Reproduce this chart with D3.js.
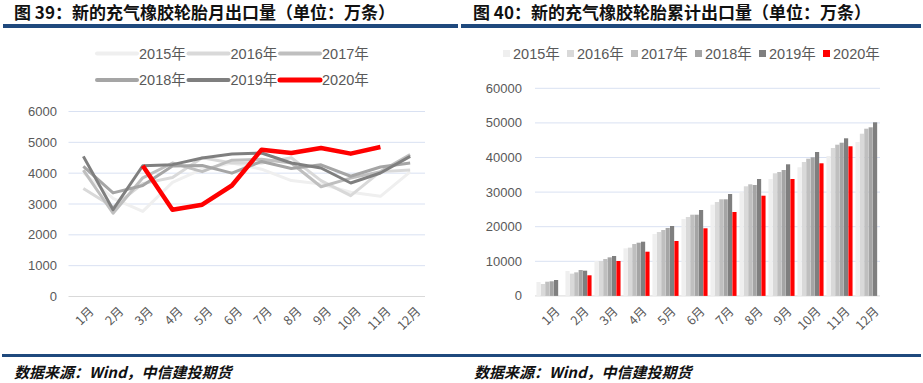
<!DOCTYPE html>
<html>
<head>
<meta charset="utf-8">
<script src="https://cdn.jsdelivr.net/npm/d3@7"></script>
<style>
  body { margin: 0; background: #fff; }
  svg { display: block; font-family: "Liberation Sans", Arial, "Noto Sans CJK SC", sans-serif; }
</style>
</head>
<body>
<div id="chart"></div>
<script>
const months = ["1月", "2月", "3月", "4月", "5月", "6月", "7月", "8月", "9月", "10月", "11月", "12月"];
const years = ["2015年", "2016年", "2017年", "2018年", "2019年", "2020年"];
const yearColors = ["#efefef", "#d9d9d9", "#bfbfbf", "#a5a5a5", "#7f7f7f", "#ff0000"];

// monthly exports (万条)
const m2015 = [4020, 3180, 2760, 3700, 4130, 4330, 4130, 3760, 3650, 3380, 3250, 4040];
const m2016 = [3500, 2900, 3660, 3860, 4500, 4330, 4330, 4500, 3760, 3270, 4050, 4100];
const m2017 = [4100, 2700, 3850, 4330, 4050, 4420, 4450, 4330, 3560, 3840, 4050, 4600];
const m2018 = [4220, 3360, 3600, 4230, 4250, 4000, 4380, 4150, 4270, 3900, 4200, 4330];
const m2019 = [4545, 2815, 4240, 4276, 4493, 4623, 4655, 4330, 4168, 3681, 4006, 4545];
const m2020 = [null, null, 4240, 2815, 2977, 3600, 4763, 4655, 4818, 4633, 4850, null];

// cumulative exports (万条)
const c2015 = [4017, 7197, 10087, 13757, 17890, 22225, 26358, 30116, 33786, 37168, 40434, 44480];
const c2016 = [3440, 6426, 10087, 13950, 18468, 22803, 27139, 31676, 35433, 38699, 42746, 46879];
const c2017 = [4104, 6811, 10665, 15000, 19046, 23468, 27919, 32254, 35809, 39653, 43699, 48324];
const c2018 = [4220, 7486, 11145, 15376, 19624, 23468, 27919, 32052, 36387, 40058, 44277, 48728];
const c2019 = [4595, 7293, 11531, 15665, 20202, 24827, 29451, 33786, 38035, 41590, 45549, 50173];
const c2020 = [null, 5954, 10087, 12775, 15867, 19538, 24249, 28960, 33786, 38324, 43237, null];

const monthly = [m2015, m2016, m2017, m2018, m2019, m2020];
const cumulative = [c2015, c2016, c2017, c2018, c2019, c2020];

const W = 923, H = 383;
const textColor = "#595959";
const gridColor = "#d9e1f2";
const ruleColor = "#1f497d";

const svg = d3.select("#chart").append("svg").attr("width", W).attr("height", H);
svg.append("rect").attr("width", W).attr("height", H).attr("fill", "#fff");

// header / footer rules
svg.append("rect").attr("x", 3).attr("y", 24).attr("width", 455).attr("height", 4).attr("fill", ruleColor);
svg.append("rect").attr("x", 461).attr("y", 24).attr("width", 460).attr("height", 4).attr("fill", ruleColor);
svg.append("rect").attr("x", 2).attr("y", 354).attr("width", 919).attr("height", 3).attr("fill", ruleColor);

const titleFont = "'Noto Sans CJK SC', sans-serif";
svg.append("text").attr("x", 14).attr("y", 18.5)
  .style("font-family", titleFont).style("font-size", "17px").style("font-weight", "bold").attr("fill", "#111")
  .text("图 39：新的充气橡胶轮胎月出口量（单位：万条）");
svg.append("text").attr("x", 473).attr("y", 18.5)
  .style("font-family", titleFont).style("font-size", "17px").style("font-weight", "bold").attr("fill", "#111")
  .text("图 40：新的充气橡胶轮胎累计出口量（单位：万条）");

[14, 474].forEach((x) => {
  svg.append("text").attr("x", x).attr("y", 378)
    .style("font-family", titleFont).style("font-size", "15px").style("font-weight", "bold")
    .style("font-style", "italic").attr("fill", "#111")
    .text("数据来源：Wind，中信建投期货");
});

// ---------- left: monthly lines ----------
const xL = d3.scaleBand().domain(months).range([68.5, 425]);
const yL = d3.scaleLinear().domain([0, 6000]).range([296.5, 111.5]);

const left = svg.append("g");
left.append("g")
  .selectAll("line")
  .data(yL.ticks(6))
  .join("line")
  .attr("x1", 68.5).attr("x2", 425)
  .attr("y1", (d) => yL(d)).attr("y2", (d) => yL(d))
  .attr("stroke", (d) => (d === 0 ? "#d9d9d9" : gridColor)).attr("stroke-width", 1);

left.append("g")
  .selectAll("text")
  .data(yL.ticks(6))
  .join("text")
  .attr("x", 57).attr("y", (d) => yL(d) + 4.5)
  .attr("text-anchor", "end").attr("fill", textColor).style("font-size", "13px")
  .text((d) => d);

left.append("g")
  .selectAll("text")
  .data(months)
  .join("text")
  .attr("transform", (d) => `translate(${xL(d) + xL.bandwidth() / 2 + 5},${306}) rotate(-45)`)
  .attr("text-anchor", "end").attr("dy", "0.7em").attr("fill", textColor)
  .style("font-size", "12.5px").style("font-family", "'Noto Sans CJK SC', sans-serif")
  .text((d) => d);

const line = d3.line()
  .defined((d) => d != null)
  .x((d, i) => xL(months[i]) + xL.bandwidth() / 2)
  .y((d) => yL(d));

left.append("g")
  .selectAll("path")
  .data(monthly)
  .join("path")
  .attr("d", (d) => line(d))
  .attr("fill", "none")
  .attr("stroke", (d, i) => yearColors[i])
  .attr("stroke-width", (d, i) => (i === 5 ? 4.5 : 3))
  .attr("stroke-linejoin", "round");

// left legend
const legL = left.append("g");
years.forEach((yName, i) => {
  const col = i % 3, row = Math.floor(i / 3);
  const lx = 97 + col * 91.5, ly = 53.5 + row * 26.5;
  legL.append("line").attr("x1", lx).attr("x2", lx + 40).attr("y1", ly).attr("y2", ly)
    .attr("stroke", yearColors[i]).attr("stroke-width", i === 5 ? 5 : 4).attr("stroke-linecap", "round");
  legL.append("text").attr("x", lx + 42).attr("y", ly + 5)
    .attr("fill", textColor).style("font-size", "14.5px").text(yName);
});

// ---------- right: cumulative bars ----------
const xR = d3.scaleBand().domain(months).range([535, 883]).paddingInner(0.1).paddingOuter(0.05);
const xSub = d3.scaleBand().domain(d3.range(6)).range([0, xR.bandwidth()]).paddingInner(0.05);
const yR = d3.scaleLinear().domain([0, 60000]).range([295.9, 88.3]);

const right = svg.append("g");
right.append("g")
  .selectAll("line")
  .data(yR.ticks(6))
  .join("line")
  .attr("x1", 535).attr("x2", 880)
  .attr("y1", (d) => yR(d)).attr("y2", (d) => yR(d))
  .attr("stroke", (d) => (d === 0 ? "#d9d9d9" : gridColor)).attr("stroke-width", 1);

right.append("g")
  .selectAll("text")
  .data(yR.ticks(6))
  .join("text")
  .attr("x", 522).attr("y", (d) => yR(d) + 4.5)
  .attr("text-anchor", "end").attr("fill", textColor).style("font-size", "13px")
  .text((d) => d);

right.append("g")
  .selectAll("text")
  .data(months)
  .join("text")
  .attr("transform", (d) => `translate(${xR(d) + xR.bandwidth() / 2 + 5},${306}) rotate(-45)`)
  .attr("text-anchor", "end").attr("dy", "0.7em").attr("fill", textColor)
  .style("font-size", "12.5px").style("font-family", "'Noto Sans CJK SC', sans-serif")
  .text((d) => d);

const barData = [];
cumulative.forEach((series, s) => {
  series.forEach((v, i) => {
    if (v != null) barData.push({ s, month: months[i], v });
  });
});

right.append("g")
  .selectAll("rect")
  .data(barData)
  .join("rect")
  .attr("x", (d) => xR(d.month) + xSub(d.s))
  .attr("width", xSub.bandwidth())
  .attr("y", (d) => yR(d.v))
  .attr("height", (d) => yR(0) - yR(d.v))
  .attr("fill", (d) => yearColors[d.s]);

// right legend
const legR = right.append("g");
years.forEach((yName, i) => {
  const lx = 503 + i * 64;
  legR.append("rect").attr("x", lx).attr("y", 50).attr("width", 7).attr("height", 7).attr("fill", yearColors[i]);
  legR.append("text").attr("x", lx + 10).attr("y", 58.5)
    .attr("fill", textColor).style("font-size", "14.5px").text(yName);
});
</script>
</body>
</html>
